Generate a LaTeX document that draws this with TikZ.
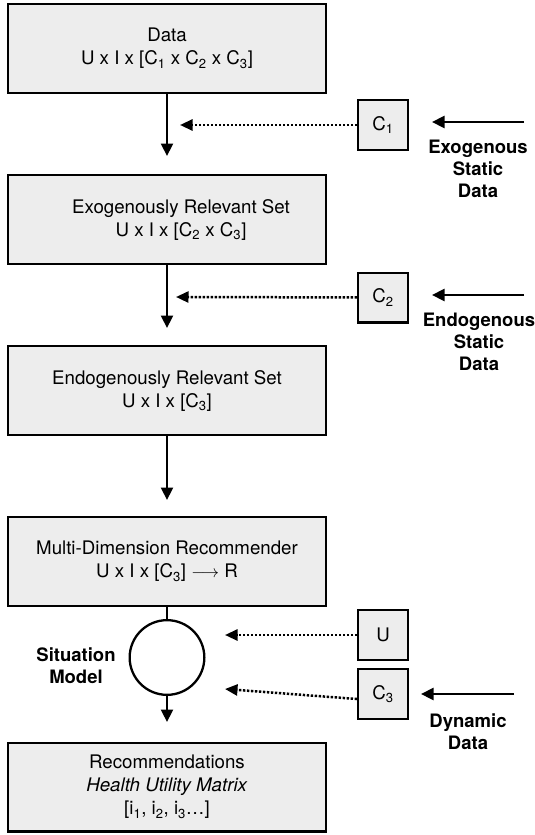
\documentclass[tikz,border=0pt]{standalone}
\usepackage{fontspec}
\setmainfont{TeX Gyre Heros}
\usepackage{tikz}
\usetikzlibrary{positioning}
\usetikzlibrary{arrows.meta}

\begin{document}
\begin{tikzpicture}[x=1pt,y=-1pt,->,>={Triangle[length=12.5pt,width=12pt]},
	line width=2.3pt,node distance=171pt,
	font=\fontsize{18.7}{23}\selectfont,
	main node/.style={rectangle,draw,fill=boxgray,minimum width=317.7pt,minimum height=88.7pt,align=center},
	small node/.style={rectangle,draw,fill=boxgray,minimum size=49.7pt},
	side label/.style={align=center,font=\fontsize{18.5}{22}\selectfont\bfseries},
	dot line/.style={line width=2.5pt,dash pattern=on 2.4pt off 1.6pt,>={Triangle[length=12.5pt,width=11pt]}}]
	
	\definecolor{boxgray}{RGB}{237,237,237}
	\useasboundingbox (0,0) rectangle (535,835);
	
	\node[main node] (data) at (167,48.5) {Data\\U x I x [C\textsubscript{1} x C\textsubscript{2} x C\textsubscript{3}]};
	\node[main node] (exo) [below of=data] {\hspace*{28pt}Exogenously Relevant Set\\\hspace*{28pt}U x I x [C\textsubscript{2} x C\textsubscript{3}]};
	\node[main node] (endo) [below of=exo] {Endogenously Relevant Set\\U x I x [C\textsubscript{3}]};
	\node[main node] (recom) [below of=endo] {Multi-Dimension Recommender\\U x I x [C\textsubscript{3}] $\longrightarrow$ R};
	\node[main node,node distance=225.5pt] (result) [below of=recom] {Recommendations\\\textit{Health Utility Matrix}\\{}[i\textsubscript{1}, i\textsubscript{2}, i\textsubscript{3}\dots]};
	\node[circle,draw,fill=white,minimum size=74.7pt] (sm) at (167,657.5) {};
	
	\node[small node] (c1) at (383,125) {C\textsubscript{1}};
	\node[small node] (c2) at (383,297.5) {C\textsubscript{2}};
	\node[small node] (u) at (383,635) {U};
	\node[small node] (c3) at (383,694) {C\textsubscript{3}};
	
	\node[side label] (exolbl) at (478,169) {Exogenous\\Static\\Data};
	\node[side label] (endolbl) at (479,342) {Endogenous\\Static\\Data};
	\node[side label] (dynlbl) at (468,732) {Dynamic\\Data};
	\node[side label] (smlbl) at (76,666) {Situation\\Model};
	
	\coordinate (t1) at (167,156);
	\coordinate (t2) at (167,328);
	\coordinate (t3) at (167,500);
	\coordinate (t4) at (167,722);
	\coordinate (d1) at (180,125);
	\coordinate (d2) at (176,297);
	\coordinate (d3) at (225,635);
	\coordinate (d4) at (225,689);
	\coordinate (exoin) at (524,122);
	\coordinate (exoout) at (432,122);
	\coordinate (endoin) at (524,295);
	\coordinate (endoout) at (432,295);
	\coordinate (dynin) at (514,694);
	\coordinate (dynout) at (421,694);
	
	\path
	(data) edge (t1)
	(exo) edge (t2)
	(endo) edge (t3)
	(recom) edge[-] (sm)
	(sm) edge (t4)
	(exoin) edge (exoout)
	(endoin) edge (endoout)
	(dynin) edge (dynout);
	
	\path[dot line]
	(c1) edge (d1)
	(c2) edge (d2)
	(u) edge (d3)
	([yshift=-5pt]c3.west) edge (d4);
\end{tikzpicture}
\end{document}
